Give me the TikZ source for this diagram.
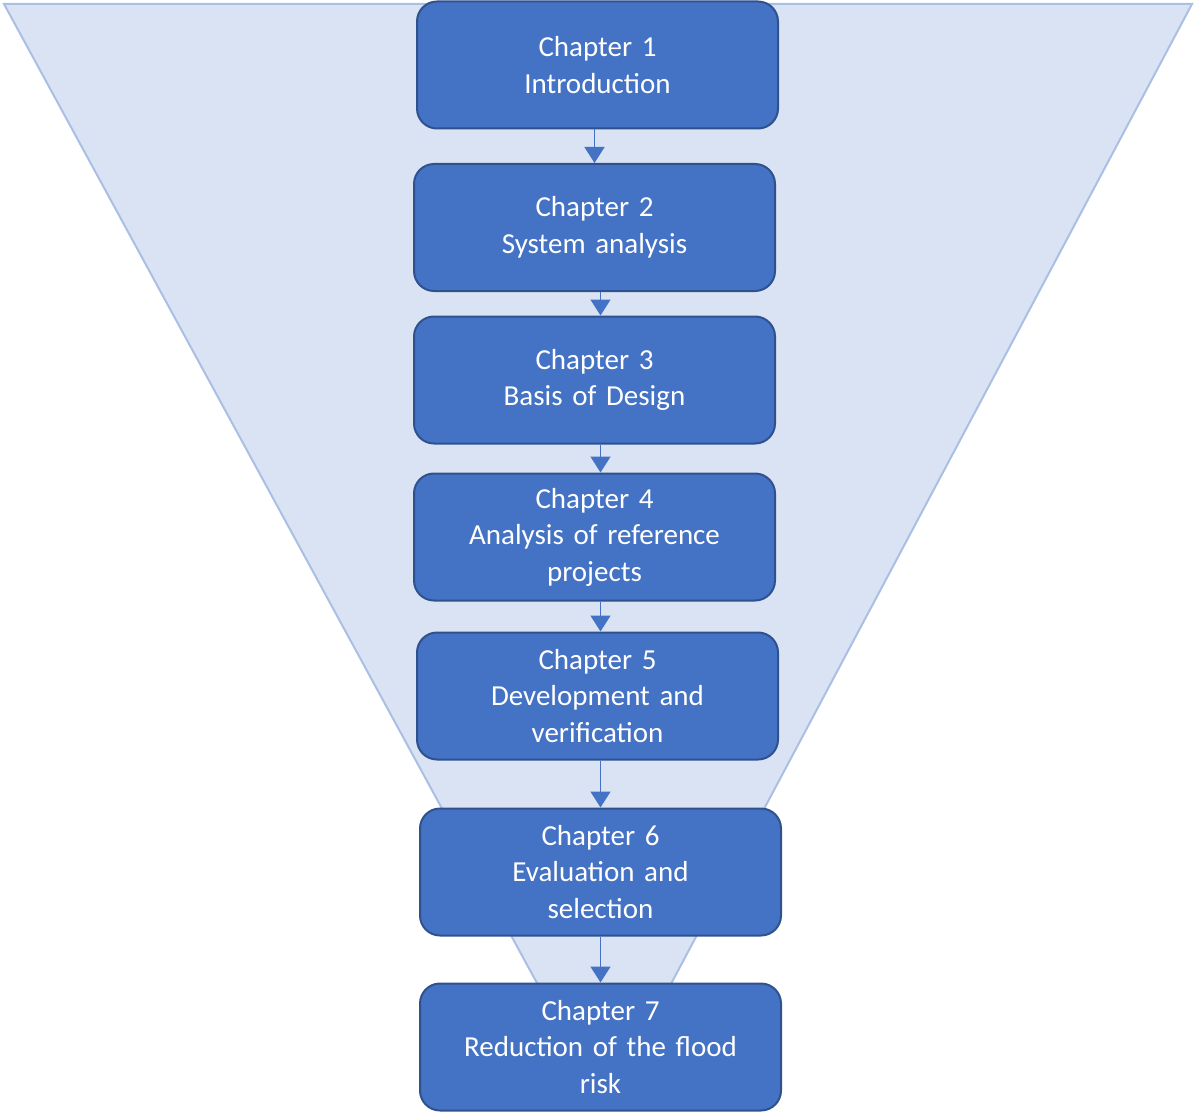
\documentclass[tikz,border=0pt]{standalone}
\usepackage{fontspec}
\setmainfont{Carlito}
\usetikzlibrary{arrows.meta}
\definecolor{funnelfill}{HTML}{DAE3F3}
\definecolor{funneledge}{HTML}{A9BFE3}
\definecolor{boxfill}{HTML}{4472C4}
\definecolor{boxedge}{HTML}{2F528F}
\begin{document}
\begin{tikzpicture}[x=1pt,y=-1pt,
  chapbox/.style={draw=boxedge, line width=2pt, fill=boxfill, rounded corners=20pt,
    minimum width=361pt, minimum height=127pt, inner sep=0pt, text width=350pt,
    align=center, text=white, font=\fontsize{29}{36.5}\selectfont},
  arr/.style={draw=boxfill, line width=1.6pt, -{Triangle[width=20pt,length=16pt]}}]
\useasboundingbox (0,0) rectangle (1195,1113);
\filldraw[fill=funnelfill, draw=funneledge, line width=2pt] (4,4) -- (1192,4) -- (605,1108) -- cycle;
\node[chapbox] (b1) at (597.5,65) {Chapter 1\\Introduction};
\node[chapbox] (b2) at (594.5,227.5) {Chapter 2\\System analysis};
\node[chapbox] (b3) at (594.5,380) {Chapter 3\\Basis of Design};
\node[chapbox] (b4) at (594.5,537) {Chapter 4\\Analysis of reference\\projects};
\node[chapbox] (b5) at (597.5,696) {Chapter 5\\Development and\\verification};
\node[chapbox] (b6) at (600.5,872) {Chapter 6\\Evaluation and\\selection};
\node[chapbox] (b7) at (600.5,1047) {Chapter 7\\Reduction of the flood\\risk};
\draw[arr] (b1.south -| b2) -- (b2.north);
\draw[arr] (b2.south -| b6) -- (b3.north -| b6);
\draw[arr] (b3.south -| b6) -- (b4.north -| b6);
\draw[arr] (b4.south -| b6) -- (b5.north -| b6);
\draw[arr] (b5.south -| b6) -- (b6.north);
\draw[arr] (b6.south) -- (b7.north);
\end{tikzpicture}
\end{document}
